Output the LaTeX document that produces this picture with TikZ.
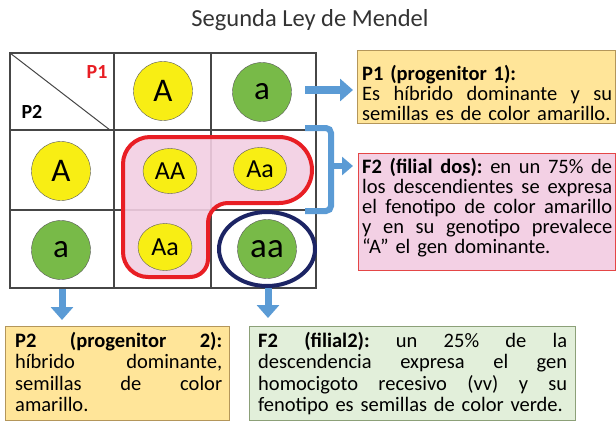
\documentclass[tikz,border=0pt]{standalone}
\usepackage{fontspec}
\setmainfont{Carlito}
\usepackage{xcolor}
\usetikzlibrary{arrows.meta,positioning,shapes.geometric,calc}
\definecolor{mendelblue}{RGB}{91,155,213}
\definecolor{gridgray}{RGB}{70,70,70}
\definecolor{seedyellow}{RGB}{248,238,20}
\definecolor{seedgreen}{RGB}{120,186,72}
\definecolor{blobpink}{RGB}{242,206,226}
\definecolor{blobred}{RGB}{232,30,36}
\definecolor{ringnavy}{RGB}{28,36,100}
\definecolor{noteyellow}{RGB}{255,229,153}
\definecolor{noteyellowline}{RGB}{180,150,90}
\definecolor{notepink}{RGB}{243,208,228}
\definecolor{notepinkline}{RGB}{228,70,70}
\definecolor{notegreen}{RGB}{226,239,218}
\definecolor{notegreenline}{RGB}{140,160,120}
\frenchspacing
\newcommand{\spread}[2]{\leavevmode\hbox to #1{\spaceskip=0.25em plus 1fil\relax #2}}

\begin{document}
\begin{tikzpicture}[x=1pt, y=-1pt,
  gridline/.style={draw=gridgray, line width=1.4pt},
  ycirc/.style={circle, draw=black!65, fill=seedyellow, inner sep=0pt,
                minimum size=59pt, font=\fontsize{33}{33}\selectfont},
  gcirc/.style={ycirc, fill=seedgreen},
  yoval/.style={ellipse, draw=black!65, fill=seedyellow, inner sep=0pt,
                minimum width=54pt, minimum height=45pt, font=\fontsize{26}{26}\selectfont},
  infobox/.style={draw, anchor=north west, inner sep=0pt},
  boxtext/.style={anchor=north west, inner sep=0pt, align=left,
                  font=\fontsize{20.5}{20}\selectfont},
  bluearr/.style={-{Triangle[width=22pt,length=13pt]}, line width=8pt, draw=mendelblue}
]
\useasboundingbox (0,0) rectangle (616,421);

% title
\node[font=\fontsize{24.5}{24.5}\selectfont, text=black!80] (title) at (310,20) {Segunda Ley de Mendel};

% punnett grid
\draw[gridline] (10,53) rectangle (316,288);
\foreach \gx in {114,211} \draw[gridline] (\gx,53) -- (\gx,288);
\foreach \gy in {130,210} \draw[gridline] (10,\gy) -- (316,\gy);
\draw[gridline, line width=1pt] (10,53) -- (110,130);
\node[font=\fontsize{20}{20}\selectfont\bfseries, text=blobred] (lblp1) at (97,72) {P1};
\node[font=\fontsize{20}{20}\selectfont\bfseries] (lblp2) at (32,112) {P2};

% dominant group
\draw[blobred, line width=4pt, fill=blobpink, fill opacity=0.9, draw opacity=1]
  (150,137) -- (279,137) arc[start angle=-90, end angle=90, radius=33]
  -- (228,203) arc[start angle=-90, end angle=-180, radius=20]
  -- (208,259) arc[start angle=0, end angle=90, radius=18]
  -- (148,277) arc[start angle=90, end angle=180, radius=25]
  -- (123,164) arc[start angle=180, end angle=270, radius=27] -- cycle;

% alleles and offspring
\node[ycirc] (topA) at (163,91) {A};
\node[gcirc] (topa) at (262,92) {a};
\node[ycirc] (leftA) at (61,171) {A};
\node[gcirc] (lefta) at (61,250) {a};
\node[yoval] (cAA) at (170,171) {AA};
\node[yoval, minimum width=53pt, minimum height=43pt] (cAa) at (260,169) {Aa};
\node[yoval, minimum height=47pt] (caA) at (165,247) {Aa};
\node[gcirc, font=\fontsize{35}{35}\selectfont] (caa) at (267,249) {aa};
\draw[ringnavy, line width=4pt] (caa.center) ellipse [x radius=48, y radius=37];

% notes
\node[infobox, draw=noteyellowline, fill=noteyellow, minimum width=258pt, minimum height=73pt] (p1box) at (357,50) {};
\node[boxtext, text width=250pt] (p1text) at (362,65)
  {{\bfseries P1 (progenitor 1):}\\
   \spread{250pt}{Es híbrido dominante y su}\\
   semillas es de color amarillo.};

\node[infobox, draw=notepinkline, fill=notepink, minimum width=257pt, minimum height=117pt] (f2box) at (358,153) {};
\node[boxtext, text width=250pt] (f2text) at (362,158)
  {\spread{250pt}{{\bfseries F2 (filial dos):} en un 75\% de}\\
   \spread{250pt}{los descendientes se expresa}\\
   \spread{250pt}{el fenotipo de color amarillo}\\
   \spread{250pt}{y en su genotipo prevalece}\\
   “A” el gen dominante.};

\node[infobox, draw=noteyellowline, fill=noteyellow, minimum width=224pt, minimum height=94pt] (p2box) at (5,326) {};
\node[boxtext, text width=207pt, font=\fontsize{20.5}{21.5}\selectfont] (p2text) at (15,332)
  {\spread{207pt}{\bfseries P2 (progenitor 2):}\\
   \spread{207pt}{híbrido dominante,}\\
   \spread{207pt}{semillas de color}\\
   amarillo.};

\node[infobox, draw=notegreenline, fill=notegreen, minimum width=326pt, minimum height=94pt] (f2bbox) at (249,326) {};
\node[boxtext, text width=309pt, font=\fontsize{20.5}{21.5}\selectfont] (f2btext) at (258,332)
  {\spread{309pt}{{\bfseries F2 (filial2):} un 25\% de la}\\
   \spread{309pt}{descendencia expresa el gen}\\
   \spread{309pt}{homocigoto recesivo (vv) y su}\\
   fenotipo es semillas de color verde.};

% arrows
\coordinate (p1start) at (305,90);
\draw[bluearr, shorten >=4pt] (p1start) -- (p1start -| p1box.west);
\coordinate (brtop) at (305,128);
\coordinate (brbot) at (305,211);
\coordinate (brmid) at (331,166);
\draw[mendelblue, line width=6pt, rounded corners=5pt] (brtop) -| (brmid |- brbot) -- (brbot);
\draw[bluearr, line width=6pt, -{Triangle[width=18pt,length=11pt]}, shorten >=5pt] (brmid) -- (brmid -| f2box.west);
\coordinate (p2start) at (62,289);
\draw[bluearr, line width=7pt, shorten >=6pt] (p2start) -- (p2start |- p2box.north);
\coordinate (f2bstart) at (268,288);
\draw[bluearr, line width=7pt, shorten >=8pt] (f2bstart) -- (f2bstart |- f2bbox.north);
\end{tikzpicture}
\end{document}
